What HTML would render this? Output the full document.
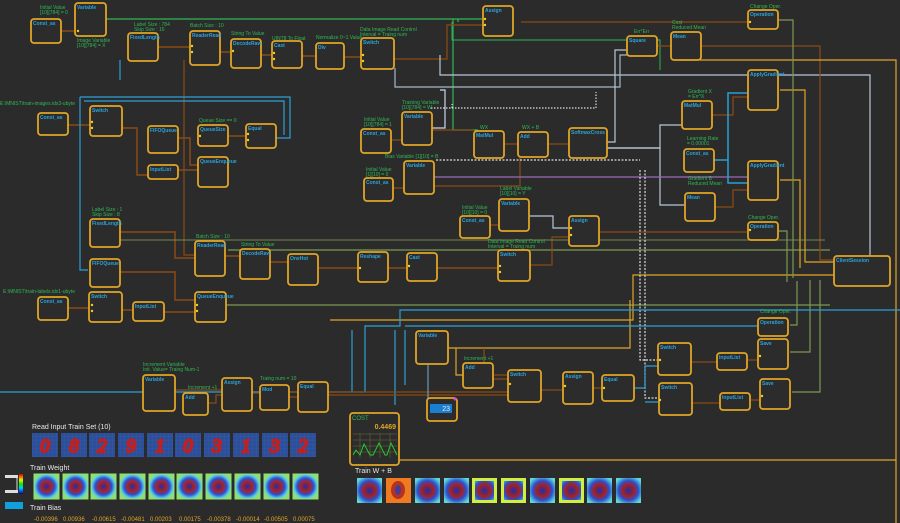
<!DOCTYPE html>
<html><head><meta charset="utf-8"><style>
html,body{margin:0;padding:0;background:#2b2b2b;width:900px;height:523px;overflow:hidden}
svg{display:block;font-family:"Liberation Sans",sans-serif}
.n{fill:#2c2c2c;stroke:#e0a526;stroke-width:1.8}
.t{fill:#2ba3dc;font-size:5px;font-weight:bold}
.g{fill:#2fb855;font-size:5px}
.w{fill:#e8e8e8;font-size:7px}
</style></head><body>
<svg width="900" height="523" viewBox="0 0 900 523">
<defs>
<radialGradient id="wt" cx="50%" cy="50%" r="55%"><stop offset="0" stop-color="#1a2fb0"/><stop offset="0.35" stop-color="#b02020"/><stop offset="0.6" stop-color="#2a4fd0"/><stop offset="0.85" stop-color="#5fd0e0"/><stop offset="1" stop-color="#90e070"/></radialGradient>
<radialGradient id="wb" cx="50%" cy="50%" r="60%"><stop offset="0" stop-color="#1a2fb0"/><stop offset="0.4" stop-color="#a82020"/><stop offset="0.65" stop-color="#2a4fd0"/><stop offset="1" stop-color="#60d8d8"/></radialGradient>
<linearGradient id="cb" x1="0" y1="0" x2="0" y2="1"><stop offset="0" stop-color="#d00"/><stop offset=".3" stop-color="#ee0"/><stop offset=".5" stop-color="#0e0"/><stop offset=".7" stop-color="#0cf"/><stop offset="1" stop-color="#00a"/></linearGradient>
<pattern id="grid" width="4" height="4" patternUnits="userSpaceOnUse"><rect width="4" height="4" fill="#2d4f9a"/><path d="M0,0 H4 M0,0 V4" stroke="#3a5eaa" stroke-width=".5"/></pattern>
</defs>
<g fill="none" stroke-width="1.2">
<path d="M105,19 H482" stroke="#2fb855"/>
<path d="M453,19 V130 H478 M458,19 V22" stroke="#2fb855"/>
<path d="M452,22 V40 H660 V70" stroke="#2fb855" opacity=".8"/>
<path d="M521,22 H748" stroke="#8a4a14"/>
<path d="M394,59 H447 V25 H483" stroke="#8a4a14"/>
<path d="M61,31 H78 M158,47 H190 M220,52 H231 M261,55 H272 M302,56 H316 M344,57 H361" stroke="#8a4a14" stroke-width="1.5"/>
<path d="M184,60 V255 H195" stroke="#8a4a14"/>
<path d="M68,125 H90 M122,128 H137 V175 H148 M178,138 H190 V165 H198 M228,136 H246 M178,170 H198" stroke="#8a4a14" stroke-width="1.5"/>
<path d="M80,97 H290 V138 H276 M84,101 H284 V135 M80,97 V270 H88" stroke="#2aa0d8"/>
<path d="M120,60 V80" stroke="#2aa0d8"/>
<path d="M68,308 H90 M122,310 H133 M164,312 H195 M120,232 H175 V258 H195 M120,272 H175 V300 H195 M225,256 H240 M270,262 H288 M318,268 H358 M388,268 H407 M437,268 H498" stroke="#8a4a14" stroke-width="1.5"/>
<path d="M226,305 H830 M228,250 H830" stroke="#7a9a50"/>
<path d="M391,140 H402 M393,188 H404 M490,225 H500 M432,130 H474 M434,186 H520 V149" stroke="#8a4a14"/>
<path d="M432,128 H445 V90 H440" stroke="#c8d8e8"/>
<path d="M440,55 V75 H870 V260" stroke="#b8c8d8"/>
<path d="M395,68 V87 H620 V55 H627" stroke="#a8b8c8"/>
<path d="M504,144 H518 M548,144 H569 M657,46 H671" stroke="#8a4a14"/>
<path d="M607,148 H660 V125 H683" stroke="#b8c8d8"/>
<path d="M607,142 H615 V50 H627" stroke="#b8c8d8"/>
<path d="M530,216 H553 V228 H569" stroke="#b8c8d8"/>
<path d="M607,148 H660 V205 H685" stroke="#b8c8d8"/>
<path d="M434,177 H748" stroke="#9a6ab8"/>
<path d="M530,265 H552 V237 H569 M599,232 H748" stroke="#8a4a14"/>
<path d="M700,46 H820 V260 H836" stroke="#8a4a14"/>
<path d="M712,115 H733 V97 H748 M715,207 H733 V190 H748" stroke="#8a4a14"/>
<path d="M714,160 H728 V93 H748 M728,160 V183 H748" stroke="#2aa0d8" stroke-width="1.5"/>
<path d="M700,60 H896 V523" stroke="#e0a526"/>
<path d="M780,90 H805 V262 H836 M780,180 H800 V268" stroke="#e0a526"/>
<path d="M350,460 H896" stroke="#e0a526"/>
<path d="M330,320 H633 V275 H836" stroke="#e0a526"/>
<path d="M778,20 H793 V278 M778,231 H787 V282 M790,325 H797 V281 M790,352 H810 V280 M792,392 H820 V280" stroke="#7a9a50"/>
<path d="M120,240 H825" stroke="#7a9a50" opacity=".7"/>
<path d="M640,170 V360 H662 M645,170 V398 H662 M436,160 H640" stroke="#ddd" stroke-dasharray="2,1.5"/>
<path d="M431,108 H452 V104 M452,108 H596 V92" stroke="#ddd" stroke-dasharray="1.5,1.5"/>
<path d="M448,348 H630 V300 M448,348 H456 V375 H463" stroke="#e0a526"/>
<path d="M484,348 V379 H508" stroke="#8a4a14"/>
<path d="M0,392 H365 V326 H400 V310 H900" stroke="#2aa0d8"/>
<path d="M352,392 V330 M395,330 V405 M405,330 V385 M405,326 H758" stroke="#2aa0d8"/>
<path d="M290,392 H541 M328,395 H540 V388 M494,375 H508 M541,390 H563 M593,388 H602" stroke="#8a4a14"/>
<path d="M634,388 H645 V366 H660 M645,402 H660" stroke="#2aa0d8"/>
<path d="M690,362 H720 M748,360 H760 M691,403 H720 M751,400 H760" stroke="#8a4a14"/>
<path d="M428,365 V418 H436" stroke="#6a9ab8"/>
<path d="M175,390 H222 M208,403 H216 V395 H222 M252,393 H260 M289,397 H298" stroke="#8a4a14"/>
</g>
<g>
<rect class="n" x="31" y="19" width="30" height="24" rx="3"/><text class="t" x="33" y="25">Const_as</text>
<rect class="n" x="75" y="3" width="31" height="33" rx="3"/><text class="t" x="77" y="9">Variable</text>
<rect class="n" x="128" y="33" width="30" height="28" rx="3"/><text class="t" x="130" y="39">FixedLength</text>
<rect class="n" x="190" y="31" width="30" height="34" rx="3"/><text class="t" x="192" y="37">ReaderRead</text>
<rect class="n" x="231" y="39" width="30" height="29" rx="3"/><text class="t" x="233" y="45">DecodeRaw</text>
<rect class="n" x="272" y="41" width="30" height="27" rx="3"/><text class="t" x="274" y="47">Cast</text>
<rect class="n" x="316" y="43" width="28" height="26" rx="3"/><text class="t" x="318" y="49">Div</text>
<rect class="n" x="361" y="38" width="33" height="31" rx="3"/><text class="t" x="363" y="44">Switch</text>
<rect class="n" x="483" y="6" width="30" height="30" rx="3"/><text class="t" x="485" y="12">Assign</text>
<rect class="n" x="627" y="36" width="30" height="20" rx="3"/><text class="t" x="629" y="42">Square</text>
<rect class="n" x="671" y="32" width="30" height="28" rx="3"/><text class="t" x="673" y="38">Mean</text>
<rect class="n" x="748" y="10" width="30" height="19" rx="3"/><text class="t" x="750" y="16">Operation</text>
<rect class="n" x="748" y="70" width="30" height="40" rx="3"/><text class="t" x="750" y="76">ApplyGradient</text>
<rect class="n" x="682" y="101" width="30" height="28" rx="3"/><text class="t" x="684" y="107">MatMul</text>
<rect class="n" x="684" y="149" width="30" height="23" rx="3"/><text class="t" x="686" y="155">Const_as</text>
<rect class="n" x="748" y="161" width="30" height="39" rx="3"/><text class="t" x="750" y="167">ApplyGradient</text>
<rect class="n" x="685" y="193" width="30" height="28" rx="3"/><text class="t" x="687" y="199">Mean</text>
<rect class="n" x="748" y="222" width="30" height="18" rx="3"/><text class="t" x="750" y="228">Operation</text>
<rect class="n" x="38" y="113" width="30" height="22" rx="3"/><text class="t" x="40" y="119">Const_as</text>
<rect class="n" x="90" y="106" width="32" height="30" rx="3"/><text class="t" x="92" y="112">Switch</text>
<rect class="n" x="148" y="126" width="30" height="27" rx="3"/><text class="t" x="150" y="132">FIFOQueue</text>
<rect class="n" x="198" y="125" width="30" height="21" rx="3"/><text class="t" x="200" y="131">QueueSize</text>
<rect class="n" x="246" y="124" width="30" height="24" rx="3"/><text class="t" x="248" y="130">Equal</text>
<rect class="n" x="148" y="165" width="30" height="14" rx="3"/><text class="t" x="150" y="171">InputList</text>
<rect class="n" x="198" y="157" width="30" height="30" rx="3"/><text class="t" x="200" y="163">QueueEnqueue</text>
<rect class="n" x="90" y="219" width="30" height="28" rx="3"/><text class="t" x="92" y="225">FixedLength</text>
<rect class="n" x="90" y="259" width="30" height="28" rx="3"/><text class="t" x="92" y="265">FIFOQueue</text>
<rect class="n" x="89" y="292" width="33" height="30" rx="3"/><text class="t" x="91" y="298">Switch</text>
<rect class="n" x="38" y="297" width="30" height="23" rx="3"/><text class="t" x="40" y="303">Const_as</text>
<rect class="n" x="133" y="302" width="31" height="19" rx="3"/><text class="t" x="135" y="308">InputList</text>
<rect class="n" x="195" y="241" width="30" height="35" rx="3"/><text class="t" x="197" y="247">ReaderRead</text>
<rect class="n" x="195" y="292" width="31" height="30" rx="3"/><text class="t" x="197" y="298">QueueEnqueue</text>
<rect class="n" x="240" y="249" width="30" height="30" rx="3"/><text class="t" x="242" y="255">DecodeRaw</text>
<rect class="n" x="288" y="254" width="30" height="31" rx="3"/><text class="t" x="290" y="260">OneHot</text>
<rect class="n" x="358" y="252" width="30" height="30" rx="3"/><text class="t" x="360" y="258">Reshape</text>
<rect class="n" x="407" y="253" width="30" height="28" rx="3"/><text class="t" x="409" y="259">Cast</text>
<rect class="n" x="361" y="129" width="30" height="24" rx="3"/><text class="t" x="363" y="135">Const_as</text>
<rect class="n" x="402" y="112" width="30" height="33" rx="3"/><text class="t" x="404" y="118">Variable</text>
<rect class="n" x="364" y="178" width="29" height="23" rx="3"/><text class="t" x="366" y="184">Const_as</text>
<rect class="n" x="404" y="161" width="30" height="33" rx="3"/><text class="t" x="406" y="167">Variable</text>
<rect class="n" x="474" y="131" width="30" height="27" rx="3"/><text class="t" x="476" y="137">MatMul</text>
<rect class="n" x="518" y="132" width="30" height="25" rx="3"/><text class="t" x="520" y="138">Add</text>
<rect class="n" x="569" y="128" width="38" height="30" rx="3"/><text class="t" x="571" y="134">SoftmaxCross</text>
<rect class="n" x="460" y="216" width="30" height="22" rx="3"/><text class="t" x="462" y="222">Const_as</text>
<rect class="n" x="499" y="199" width="30" height="32" rx="3"/><text class="t" x="501" y="205">Variable</text>
<rect class="n" x="569" y="216" width="30" height="30" rx="3"/><text class="t" x="571" y="222">Assign</text>
<rect class="n" x="498" y="250" width="32" height="31" rx="3"/><text class="t" x="500" y="256">Switch</text>
<rect class="n" x="834" y="256" width="56" height="30" rx="3"/><text class="t" x="836" y="262">ClientSession</text>
<rect class="n" x="143" y="375" width="32" height="36" rx="3"/><text class="t" x="145" y="381">Variable</text>
<rect class="n" x="183" y="393" width="25" height="22" rx="3"/><text class="t" x="185" y="399">Add</text>
<rect class="n" x="222" y="378" width="30" height="33" rx="3"/><text class="t" x="224" y="384">Assign</text>
<rect class="n" x="260" y="385" width="29" height="25" rx="3"/><text class="t" x="262" y="391">Mod</text>
<rect class="n" x="298" y="382" width="30" height="30" rx="3"/><text class="t" x="300" y="388">Equal</text>
<rect class="n" x="416" y="331" width="32" height="33" rx="3"/><text class="t" x="418" y="337">Variable</text>
<rect class="n" x="463" y="363" width="30" height="25" rx="3"/><text class="t" x="465" y="369">Add</text>
<rect class="n" x="508" y="370" width="33" height="32" rx="3"/><text class="t" x="510" y="376">Switch</text>
<rect class="n" x="563" y="372" width="30" height="32" rx="3"/><text class="t" x="565" y="378">Assign</text>
<rect class="n" x="602" y="375" width="32" height="26" rx="3"/><text class="t" x="604" y="381">Equal</text>
<rect class="n" x="658" y="343" width="33" height="32" rx="3"/><text class="t" x="660" y="349">Switch</text>
<rect class="n" x="659" y="383" width="33" height="32" rx="3"/><text class="t" x="661" y="389">Switch</text>
<rect class="n" x="717" y="353" width="30" height="17" rx="3"/><text class="t" x="719" y="359">InputList</text>
<rect class="n" x="720" y="393" width="30" height="17" rx="3"/><text class="t" x="722" y="399">InputList</text>
<rect class="n" x="758" y="339" width="30" height="30" rx="3"/><text class="t" x="760" y="345">Save</text>
<rect class="n" x="760" y="379" width="30" height="30" rx="3"/><text class="t" x="762" y="385">Save</text>
<rect class="n" x="758" y="318" width="30" height="18" rx="3"/><text class="t" x="760" y="324">Operation</text>
<rect class="n" x="427" y="398" width="30" height="23" rx="3"/>
<rect x="430" y="404" width="22" height="9" fill="#1a7fd0"/><text x="450" y="411" fill="#e8e8e8" font-size="7" text-anchor="end">23</text>
<circle cx="455" cy="399" r="1.5" fill="#e040e0"/>
<rect class="n" x="350" y="413" width="49" height="52" rx="3"/>
<text x="352" y="420" fill="#2fb855" font-size="6">COST</text>
<text x="396" y="429" fill="#e0a526" font-size="7" font-weight="bold" text-anchor="end">0.4469</text>
<g stroke="#6a6a3a" stroke-width=".5"><path d="M353,434 H397 M353,440 H397 M353,446 H397 M353,452 H397 M360,433 V458 M370,433 V458 M380,433 V458 M390,433 V458"/></g>
<path d="M353,455 L356,450 L360,455 L364,444 L370,455 L373,455 L379,443 L385,455 L387,455 L391,443 L397,455" fill="none" stroke="#1ed82a" stroke-width=".9"/>
</g>
<g fill="#f0d020">
<circle cx="78" cy="31" r="1.2"/><circle cx="192" cy="46" r="1.2"/><circle cx="192" cy="52" r="1.2"/><circle cx="233" cy="51" r="1.2"/><circle cx="274" cy="53" r="1.2"/><circle cx="274" cy="59" r="1.2"/><circle cx="363" cy="55" r="1.2"/><circle cx="363" cy="61" r="1.2"/><circle cx="485" cy="19" r="1.2"/><circle cx="485" cy="25" r="1.2"/><circle cx="750" cy="22" r="1.2"/><circle cx="750" cy="230" r="1.2"/><circle cx="92" cy="122" r="1.2"/><circle cx="92" cy="128" r="1.2"/><circle cx="200" cy="136" r="1.2"/><circle cx="248" cy="134" r="1.2"/><circle cx="248" cy="140" r="1.2"/><circle cx="92" cy="305" r="1.2"/><circle cx="92" cy="311" r="1.2"/><circle cx="197" cy="305" r="1.2"/><circle cx="197" cy="311" r="1.2"/><circle cx="360" cy="268" r="1.2"/><circle cx="409" cy="266" r="1.2"/><circle cx="500" cy="266" r="1.2"/><circle cx="500" cy="272" r="1.2"/><circle cx="571" cy="228" r="1.2"/><circle cx="571" cy="235" r="1.2"/><circle cx="760" cy="356" r="1.2"/><circle cx="762" cy="396" r="1.2"/><circle cx="510" cy="384" r="1.2"/><circle cx="565" cy="386" r="1.2"/><circle cx="604" cy="388" r="1.2"/><circle cx="660" cy="360" r="1.2"/><circle cx="660" cy="400" r="1.2"/>
</g>
<g class="g">
<text x="40" y="9">Initial Value</text><text x="40" y="14">[10][784] = 0</text>
<text x="77" y="42">Image Variable</text><text x="77" y="47">[10][784] = X</text>
<text x="134" y="26">Label Size : 784</text><text x="134" y="31">Skip Size : 16</text>
<text x="190" y="27">Batch Size : 10</text>
<text x="231" y="35">String To Value</text>
<text x="272" y="40">UINT8 To Float</text>
<text x="316" y="39">Normalize 0~1 Value</text>
<text x="360" y="31">Data Image Read Control</text><text x="360" y="36">Interval = Traing num</text>
<text x="0" y="105">E:\MNIST\train-images.idx3-ubyte</text>
<text x="199" y="122">Queue Size == 0</text>
<text x="402" y="104">Training Variable</text><text x="402" y="109">[10][784] = W</text>
<text x="364" y="121">Initial Value</text><text x="364" y="126">[10][784] = 1</text>
<text x="385" y="158">Bias Variable [1][10] = B</text>
<text x="366" y="171">Initial Value</text><text x="366" y="176">[1][10] = 0</text>
<text x="480" y="129">WX</text><text x="522" y="129">WX + B</text>
<text x="500" y="190">Label Variable</text><text x="500" y="195">[10][10] = Y</text>
<text x="462" y="209">Initial Value</text><text x="462" y="214">[10][10] = 0</text>
<text x="488" y="243">Data Image Read Control</text><text x="488" y="248">Interval = Traing num</text>
<text x="634" y="33">Err*Err</text>
<text x="672" y="24">Cost</text><text x="672" y="29">Reduced Mean</text>
<text x="750" y="8">Change Oper.</text>
<text x="688" y="93">Gradient X</text><text x="688" y="98">= Err*X</text>
<text x="687" y="140">Learning Rate</text><text x="687" y="145">= 0.00001</text>
<text x="688" y="180">Gradient B</text><text x="688" y="185">Reduced Mean</text>
<text x="748" y="219">Change Oper.</text>
<text x="92" y="211">Label Size : 1</text><text x="92" y="216">Skip Size : 8</text>
<text x="196" y="238">Batch Size : 10</text>
<text x="241" y="246">String To Value</text>
<text x="3" y="293">E:\MNIST\train-labels.idx1-ubyte</text>
<text x="143" y="366">Increment Variable</text><text x="143" y="371">Init. Value= Traing Num-1</text>
<text x="188" y="389">Increment +1</text>
<text x="260" y="380">Traing num = 10</text>
<text x="464" y="360">Increment +1</text>
<text x="760" y="313">Change Oper.</text>
</g>
<text class="w" x="32" y="429">Read Input Train Set (10)</text>
<g fill="url(#grid)">
<rect x="32" y="433" width="26" height="24"/><rect x="61" y="433" width="26" height="24"/><rect x="89" y="433" width="26" height="24"/><rect x="118" y="433" width="26" height="24"/><rect x="147" y="433" width="26" height="24"/><rect x="175" y="433" width="26" height="24"/><rect x="204" y="433" width="26" height="24"/><rect x="233" y="433" width="26" height="24"/><rect x="262" y="433" width="26" height="24"/><rect x="290" y="433" width="26" height="24"/>
</g>
<g fill="none" stroke="#c02020" stroke-width="2.2" font-size="19" text-anchor="middle" font-family="Liberation Serif,serif" font-style="italic">
<text x="45" y="452">0</text><text x="74" y="452">8</text><text x="102" y="452">2</text><text x="131" y="452">9</text><text x="160" y="452">1</text><text x="188" y="452">0</text><text x="217" y="452">3</text><text x="246" y="452">1</text><text x="275" y="452">3</text><text x="303" y="452">2</text>
</g>
<text class="w" x="30" y="470">Train Weight</text>
<g fill="url(#wt)" stroke="#90e070" stroke-width="1">
<rect x="34" y="474" width="25" height="25"/><rect x="63" y="474" width="25" height="25"/><rect x="91" y="474" width="25" height="25"/><rect x="120" y="474" width="25" height="25"/><rect x="149" y="474" width="25" height="25"/><rect x="177" y="474" width="25" height="25"/><rect x="206" y="474" width="25" height="25"/><rect x="235" y="474" width="25" height="25"/><rect x="264" y="474" width="25" height="25"/><rect x="293" y="474" width="25" height="25"/>
</g>
<rect x="5" y="475" width="13" height="3" fill="#ddd"/><rect x="5" y="490" width="13" height="3" fill="#ddd"/>
<path d="M17,477 V491" stroke="#ddd" fill="none"/>
<rect x="19" y="474" width="4" height="20" fill="url(#cb)"/>
<rect x="5" y="502" width="18" height="7" fill="#10a0e0"/>
<text class="w" x="30" y="510">Train Bias</text>
<g fill="#e0a526" font-size="6">
<text x="34" y="521">-0.00396</text><text x="63" y="521">0.00936</text><text x="92" y="521">-0.00615</text><text x="121" y="521">-0.00481</text><text x="150" y="521">0.00203</text><text x="179" y="521">0.00175</text><text x="207" y="521">-0.00378</text><text x="236" y="521">-0.00014</text><text x="264" y="521">-0.00505</text><text x="293" y="521">0.00075</text>
</g>
<text class="w" x="355" y="473">Train W + B</text>
<g fill="url(#wb)">
<rect x="357" y="478" width="25" height="25"/><rect x="386" y="478" width="25" height="25" fill="#f07a20"/><rect x="415" y="478" width="25" height="25"/><rect x="444" y="478" width="25" height="25"/><rect x="472" y="478" width="25" height="25"/><rect x="501" y="478" width="25" height="25"/><rect x="530" y="478" width="25" height="25"/><rect x="559" y="478" width="25" height="25"/><rect x="587" y="478" width="25" height="25"/><rect x="616" y="478" width="25" height="25"/>
</g>
<g fill="#a82020" opacity=".8"><ellipse cx="398" cy="490" rx="7" ry="9"/><ellipse cx="398" cy="490" rx="3" ry="5" fill="#1a2fb0"/></g>
<g fill="none" stroke="#d0f040" stroke-width="3"><rect x="473.5" y="479.5" width="22" height="22"/><rect x="502.5" y="479.5" width="22" height="22"/><rect x="560.5" y="479.5" width="22" height="22"/></g>
</svg>
</body></html>
